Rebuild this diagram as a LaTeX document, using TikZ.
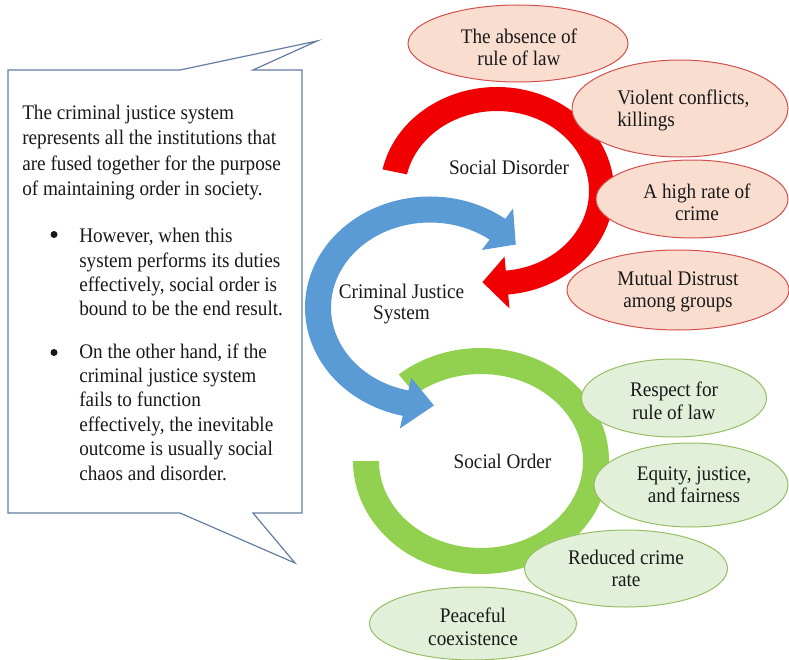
\documentclass[tikz,border=0pt]{standalone}
\usepackage{fontspec}
\setmainfont{Liberation Serif}
\usetikzlibrary{shapes.geometric}

\definecolor{arcred}{RGB}{240,0,0}
\definecolor{arcblue}{RGB}{91,155,213}
\definecolor{arcgreen}{RGB}{146,208,80}
\definecolor{peach}{RGB}{249,221,207}
\definecolor{peachline}{RGB}{210,80,80}
\definecolor{mint}{RGB}{226,239,217}
\definecolor{mintline}{RGB}{150,190,100}
\definecolor{calloutline}{RGB}{100,125,160}
\definecolor{ink}{RGB}{25,25,25}

\begin{document}
\begin{tikzpicture}[x=0.75pt,y=-0.75pt,
  oval/.style 2 args={ellipse, inner sep=0pt, line width=0.75pt,
    minimum width=#1*0.75pt, minimum height=#2*0.75pt},
  redoval/.style={draw=peachline, fill=peach},
  greenoval/.style={draw=mintline, fill=mint},
  tall/.style={yscale=1.08, transform shape},
  lbl/.style={tall, inner sep=0pt, align=center, text=ink,
    font=\fontsize{14.4}{15.6}\selectfont},
  body/.style={tall, inner sep=0pt, align=left, anchor=north west, text=ink,
    font=\fontsize{14.4}{16.9}\selectfont},
  bulletdot/.style={circle, fill=ink, inner sep=0pt, minimum size=7*0.75pt}]

\useasboundingbox (0,0) rectangle (789,660);

% ---- callout box with two pointers ----
\draw[calloutline, line width=0.9pt, fill=white, line join=miter]
  (8,70) -- (180,70) -- (317,41) -- (253,70) -- (302,70) -- (302,513)
  -- (253,513) -- (295,563) -- (180,513) -- (8,513) -- cycle;

\node[body, font=\fontsize{14.4}{17.55}\selectfont] (intro) at (22,101.5)
  {\strut The criminal justice system\\represents all the institutions that\\are fused together for the purpose\\of maintaining order in society.};
\node[bulletdot] (b1) at (54,234.5) {};
\node[body] (p1) at (79,225.5)
  {\strut However, when this\\system performs its duties\\effectively, social order is\\bound to be the end result.};
\node[bulletdot] (b2) at (54,352.5) {};
\node[body] (p2) at (79,341)
  {\strut On the other hand, if the\\criminal justice system\\fails to function\\effectively, the inevitable\\outcome is usually social\\chaos and disorder.};

% ---- green ring (social order) ----
\coordinate (gc) at (481,461);
\fill[arcgreen]
  ([shift={(gc)}]230:128 and 113) arc[start angle=230, end angle=540, x radius=128, y radius=113]
  -- ([shift={(gc)}]540:102 and 87) arc[start angle=540, end angle=230, x radius=102, y radius=87]
  -- cycle;

% ---- red curved arrow (social disorder) ----
\coordinate (rc) at (497,191);
\fill[arcred]
  ([shift={(rc)}]192:117 and 104) arc[start angle=192, end angle=444.5, x radius=117, y radius=104]
  -- ([shift={(rc)}]444.5:130.5 and 118)
  -- ([shift={(rc)}]458:104.5 and 92)
  -- ([shift={(rc)}]444.5:78.5 and 66)
  -- ([shift={(rc)}]444.5:92 and 80) arc[start angle=444.5, end angle=192, x radius=92, y radius=80]
  -- cycle;

% ---- blue double-headed curved arrow (criminal justice system) ----
\coordinate (bc) at (430,307.5);
\fill[arcblue]
  ([shift={(bc)}]307:125 and 111) arc[start angle=307, end angle=102.6, x radius=125, y radius=111]
  -- ([shift={(bc)}]102.6:138 and 124)
  -- ([shift={(bc)}]88:112 and 98)
  -- ([shift={(bc)}]102.6:86 and 72)
  -- ([shift={(bc)}]102.6:99 and 85) arc[start angle=102.6, end angle=307, x radius=99, y radius=85]
  -- ([shift={(bc)}]307:86 and 72)
  -- ([shift={(bc)}]320:112 and 98)
  -- ([shift={(bc)}]307:138 and 124)
  -- cycle;

% ---- consequences of disorder ----
\node[oval={220}{77}, redoval] (e1) at (518,43.5) {};
\node[oval={216}{97}, redoval] (e2) at (680,108.5) {};
\node[oval={192}{78}, redoval] (e3) at (692,199) {};
\node[oval={222}{80}, redoval] (e4) at (678,290) {};

% ---- consequences of order ----
\node[oval={185}{78}, greenoval] (g1) at (674,398) {};
\node[oval={194}{84}, greenoval] (g2) at (691,485) {};
\node[oval={203}{77}, greenoval] (g3) at (626,568.5) {};
\node[oval={207}{73}, greenoval] (g4) at (473,623.5) {};

% ---- labels ----
\node[lbl] (t1) at (519,47.5) {The absence of\\rule of law};
\node[lbl, align=left, anchor=west] (t2) at (617,110.5) {Violent conflicts,\\killings};
\node[lbl] (t3) at (697,202.5) {A high rate of\\crime};
\node[lbl] (t4) at (678,291.5) {Mutual Distrust\\among groups};
\node[lbl] (t5) at (674,401) {Respect for\\rule of law};
\node[lbl] (t6) at (694,484.5) {Equity, justice,\\and fairness};
\node[lbl] (t7) at (626,568.5) {Reduced crime\\rate};
\node[lbl] (t8) at (473,627) {Peaceful\\coexistence};

\node[lbl] (sd) at (509,167) {Social Disorder};
\node[lbl, font=\fontsize{14.4}{14.6}\selectfont] (cjs) at (401.5,304) {Criminal Justice\\System};
\node[lbl] (so) at (502.5,461.7) {Social Order};

\end{tikzpicture}
\end{document}
